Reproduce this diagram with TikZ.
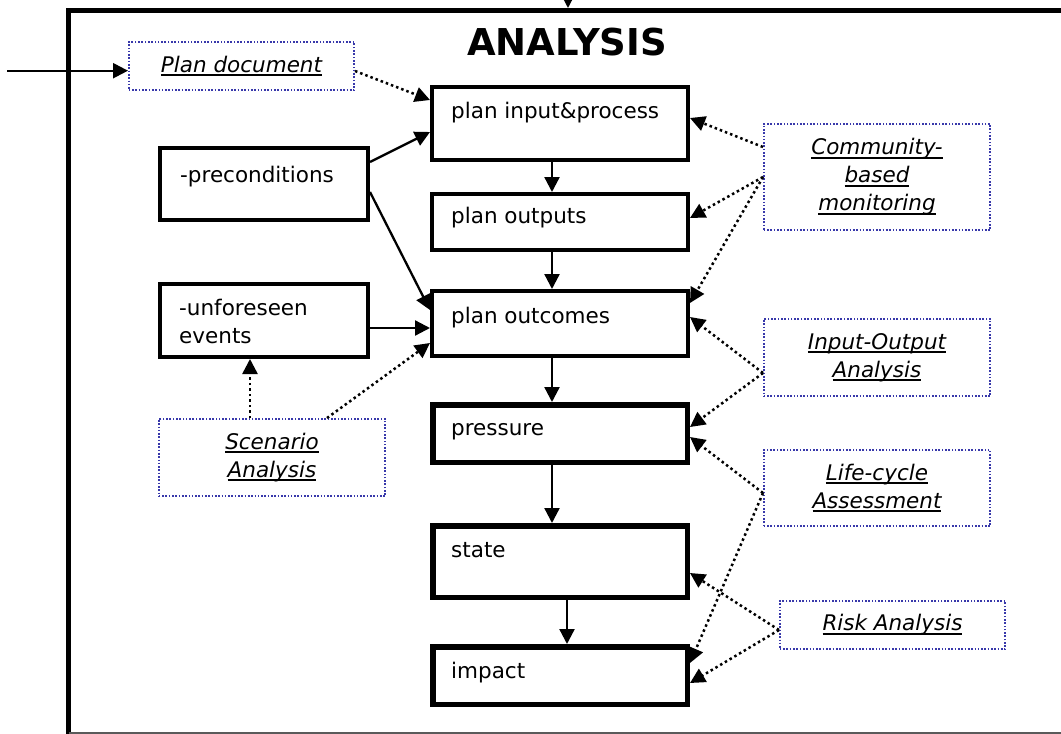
\documentclass[tikz,border=0pt]{standalone}
\usepackage{fontspec}
\setmainfont{DejaVu Sans}
\usetikzlibrary{arrows.meta,calc}
\newcommand\myul[1]{\setbox0\hbox{#1}\leavevmode\rlap{\rule[-3.6pt]{\wd0}{1.8pt}}\box0}
\definecolor{toolblue}{RGB}{56,56,170}
\definecolor{framegray}{RGB}{90,90,90}
\begin{document}
\begin{tikzpicture}[x=1pt,y=-1pt,
  mainbox/.style={draw, line width=4pt, fill=white, inner sep=0pt},
  heavybox/.style={draw, line width=5.5pt, fill=white, inner sep=0pt},
  toolbox/.style={draw=toolblue, line width=1.6pt, dash pattern=on 1.6pt off 1.7pt, fill=white, inner sep=0pt, align=center, font=\fontsize{21.5}{28}\selectfont\itshape},
  txt/.style={anchor=base west, inner sep=0pt, font=\fontsize{21.5}{27}\selectfont},
  flow/.style={line width=2.3pt, -{Triangle[length=15pt,width=15pt]}},
  feed/.style={line width=2.5pt, dash pattern=on 2.5pt off 3pt, -{Triangle[length=15pt,width=15pt]}},
]
\useasboundingbox (0,0) rectangle (1061,734);

% frame
\draw[line width=5pt] (68.5,740) -- (68.5,10.5) -- (1075,10.5);
\draw[line width=1.8pt, framegray] (68.5,733) -- (1075,733);
\coordinate (topsrc) at (568,-30);
\coordinate (topdst) at (568,8);
\coordinate (docsrc) at (7,70.7);

% title
\node[anchor=base, inner sep=0pt, font=\fontsize{37}{40}\selectfont\bfseries] (title) at (567,55) {ANALYSIS};

% central chain
\node[mainbox, minimum width=256pt, minimum height=73pt] (ip) at (560,123.5) {};
\node[mainbox, minimum width=256pt, minimum height=56pt] (po) at (560,222) {};
\node[mainbox, minimum width=256pt, minimum height=65pt] (pc) at (560,323.5) {};
\node[heavybox, minimum width=254.5pt, minimum height=57.5pt] (pr) at (560,433.5) {};
\node[heavybox, minimum width=254.5pt, minimum height=71.5pt] (st) at (560,561.5) {};
\node[heavybox, minimum width=254.5pt, minimum height=57.5pt] (im) at (560,675.5) {};

\node[txt] (ipt) at (451,118) {plan input\&process};
\node[txt] (pot) at (451,223) {plan outputs};
\node[txt] (pct) at (451,323) {plan outcomes};
\node[txt] (prt) at (451,435) {pressure};
\node[txt] (stt) at (451,557) {state};
\node[txt] (imt) at (451,678) {impact};

% left boxes
\node[mainbox, minimum width=208pt, minimum height=72pt] (pre) at (264,184) {};
\node[mainbox, minimum width=208pt, minimum height=73pt] (unf) at (264,320.5) {};
\node[txt] (pret) at (180,182) {-preconditions};
\node[txt] (unft1) at (179,315) {-unforeseen};
\node[txt] (unft2) at (179,343) {events};

% tool boxes
\node[toolbox, minimum width=225.4pt, minimum height=48.4pt] (pd) at (241.5,66) {\myul{Plan document}};
\node[toolbox, minimum width=226.4pt, minimum height=106.4pt] (cbm) at (877,177) {\myul{Community-}\\\myul{based}\\\myul{monitoring}};
\node[toolbox, minimum width=226.4pt, minimum height=77.4pt] (io) at (877,357.5) {\myul{Input-Output}\\\myul{Analysis}};
\node[toolbox, minimum width=226.4pt, minimum height=76.4pt] (lc) at (877,488) {\myul{Life-cycle}\\\myul{Assessment}};
\node[toolbox, minimum width=225.4pt, minimum height=48.4pt] (ra) at (892.5,625) {\myul{Risk Analysis}};
\node[toolbox, minimum width=226.4pt, minimum height=77.4pt] (sa) at (272,457.5) {\myul{Scenario}\\\myul{Analysis}};

% solid connectors
\draw[flow] (topsrc) -- (topdst);
\draw[flow] (docsrc) -- ($(pd.west)+(0,4.7)$);
\draw[flow] ($(pre.east)+(0,-22)$) -- ($(ip.west)+(0,8.5)$);
\draw[flow] ($(pre.east)+(0,8)$) -- ($(pc.west)+(0,-13.5)$);
\draw[flow] ($(unf.east)+(0,7.5)$) -- ($(pc.west)+(0,4.5)$);
\draw[flow] ($(ip.south)+(-8,0)$) -- ($(po.north)+(-8,0)$);
\draw[flow] ($(po.south)+(-8,0)$) -- ($(pc.north)+(-8,0)$);
\draw[flow] ($(pc.south)+(-8,0)$) -- ($(pr.north)+(-8,0)$);
\draw[flow] ($(pr.south)+(-8,0)$) -- ($(st.north)+(-8,0)$);
\draw[flow] ($(st.south)+(7,0)$) -- ($(im.north)+(7,0)$);

% dotted connectors
\draw[feed] ($(pd.east)+(0,5)$) -- ($(ip.west)+(0,-23.5)$);
\draw[feed] ($(sa.north)+(-22,0)$) -- ($(unf.south)+(-14,0)$);
\draw[feed] ($(sa.north)+(55,0)$) -- ($(pc.west)+(0,19.5)$);
\draw[feed] ($(cbm.west)+(0,-30)$) -- ($(ip.east)+(0,-5.5)$);
\draw[feed] (cbm.west) -- ($(po.east)+(0,-4)$);
\draw[feed] (cbm.west) -- ($(pc.east)+(0,-20.5)$);
\draw[feed] ($(io.west)+(0,15.5)$) -- ($(pc.east)+(0,-6.5)$);
\draw[feed] ($(io.west)+(0,15.5)$) -- ($(pr.east)+(0,-6.5)$);
\draw[feed] ($(lc.west)+(0,5)$) -- ($(pr.east)+(0,3.5)$);
\draw[feed] ($(lc.west)+(0,5)$) -- ($(im.east)+(0,-12.5)$);
\draw[feed] ($(ra.west)+(0,5)$) -- ($(st.east)+(0,11.5)$);
\draw[feed] ($(ra.west)+(0,5)$) -- ($(im.east)+(0,7.5)$);
\end{tikzpicture}
\end{document}
